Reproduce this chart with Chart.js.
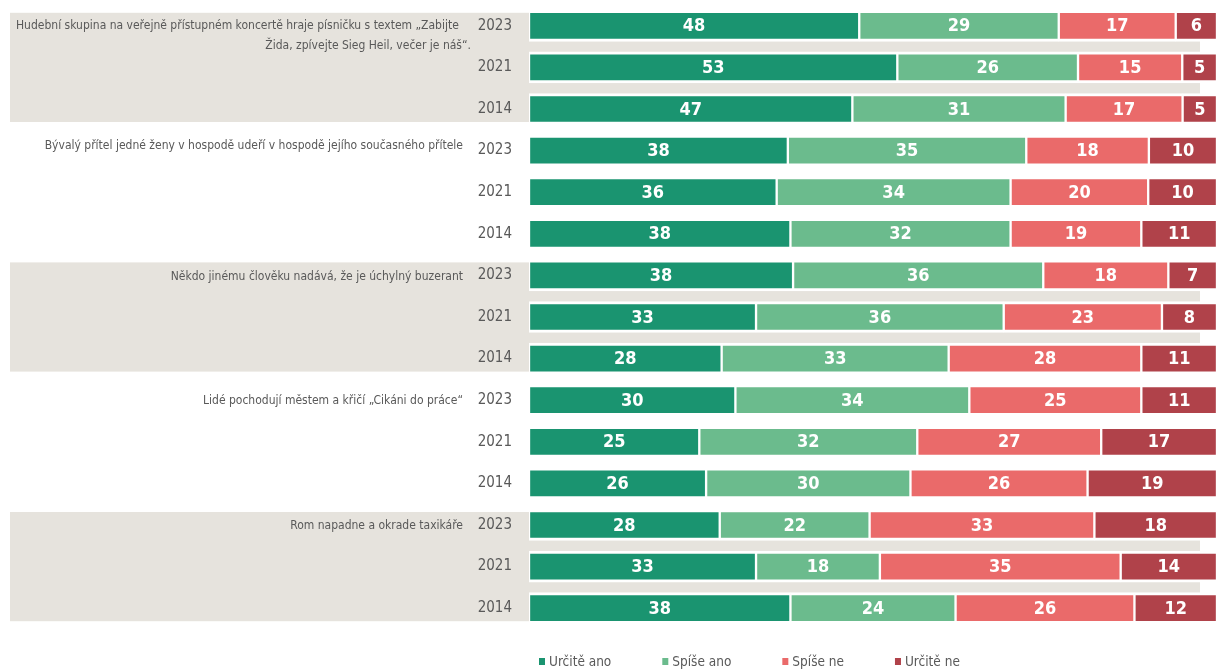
<!DOCTYPE html>
<html>
<head>
<meta charset="utf-8">
<script src="https://cdn.jsdelivr.net/npm/chart.js@4.4.1/dist/chart.umd.min.js"></script>
<style>
  html, body { margin: 0; padding: 0; background: #ffffff; }
  #wrap { width: 1217px; height: 670px; position: relative; }
</style>
</head>
<body>
<div id="wrap"><canvas id="c" width="1217" height="670"></canvas></div>
<script>
// ---- data ----
const questions = [
  ["Hudební skupina na veřejně přístupném koncertě hraje písničku s textem „Zabijte", "Žida, zpívejte Sieg Heil, večer je náš“."],
  ["Bývalý přítel jedné ženy v hospodě udeří v hospodě jejího současného přítele"],
  ["Někdo jinému člověku nadává, že je úchylný buzerant"],
  ["Lidé pochodují městem a křičí „Cikáni do práce“"],
  ["Rom napadne a okrade taxikáře"]
];
const years = ["2023", "2021", "2014"];
const seriesNames = ["Určitě ano", "Spíše ano", "Spíše ne", "Určitě ne"];
const urciteAno = [48, 53, 47, 38, 36, 38, 38, 33, 28, 30, 25, 26, 28, 33, 38];
const spiseAno  = [29, 26, 31, 35, 34, 32, 36, 36, 33, 34, 32, 30, 22, 18, 24];
const spiseNe   = [17, 15, 17, 18, 20, 19, 18, 23, 28, 25, 27, 26, 33, 35, 26];
const urciteNe  = [ 6,  5,  5, 10, 10, 11,  7,  8, 11, 11, 17, 19, 18, 14, 12];

// ---- styles ----
const colors = ["#1A9470", "#6BBB8D", "#EA6A6A", "#B0424A"];
const FONT = "'DejaVu Sans Condensed', 'Liberation Sans Narrow', sans-serif";
const textGrey = "#595959";
const bandGrey = "#E6E3DD";

// ---- derived ----
const rowLabels = [];
questions.forEach(() => years.forEach(y => rowLabels.push(y)));
const raw = [urciteAno, spiseAno, spiseNe, urciteNe];
const totals = urciteAno.map((_, i) => raw.reduce((s, a) => s + a[i], 0));
const pct = raw.map(a => a.map((v, i) => v / totals[i] * 100));

const datasets = seriesNames.map((name, k) => ({
  label: name,
  data: pct[k],
  rawValues: raw[k],
  backgroundColor: colors[k],
  borderColor: "#ffffff",
  borderWidth: { top: 3, bottom: 3, left: 1.5, right: 1.5 },
  borderSkipped: false,
  barThickness: 31
}));

const decorPlugin = {
  id: "decor",
  beforeDraw(chart) {
    const ctx = chart.ctx;
    const y = chart.scales.y;
    const area = chart.chartArea;
    ctx.save();
    ctx.fillStyle = bandGrey;
    questions.forEach((q, g) => {
      if (g % 2 !== 0) return;
      const first = g * years.length;
      const last = first + years.length - 1;
      const top = y.getPixelForValue(first) - 13;
      const bottom = y.getPixelForValue(last) + 13;
      ctx.fillRect(10, top, area.right - 17 - 10, bottom - top);
    });
    ctx.restore();
  },
  afterDatasetsDraw(chart) {
    const ctx = chart.ctx;
    ctx.save();
    ctx.font = "bold 18px " + FONT;
    ctx.fillStyle = "#ffffff";
    ctx.textAlign = "center";
    ctx.textBaseline = "middle";
    chart.data.datasets.forEach((ds, k) => {
      const meta = chart.getDatasetMeta(k);
      meta.data.forEach((el, i) => {
        const cx = (el.x + el.base) / 2;
        ctx.fillText(String(ds.rawValues[i]), cx, el.y + 1);
      });
    });
    ctx.restore();
  },
  afterDraw(chart) {
    const ctx = chart.ctx;
    const y = chart.scales.y;
    ctx.save();
    ctx.fillStyle = textGrey;
    ctx.font = "12px " + FONT;
    ctx.textBaseline = "middle";
    questions.forEach((lines, g) => {
      const cy = y.getPixelForValue(g * years.length);
      if (lines.length > 1) {
        ctx.textAlign = "left";
        ctx.fillText(lines[0], 16, cy);
        ctx.textAlign = "right";
        ctx.fillText(lines[1], 471, cy + 20);
      } else {
        ctx.textAlign = "right";
        ctx.fillText(lines[0], 463, g === 1 ? cy - 5 : cy + 1);
      }
    });
    // legend
    ctx.font = "13.5px " + FONT;
    ctx.textAlign = "left";
    let x = 539;
    const ly = 662;
    chart.data.datasets.forEach((ds) => {
      ctx.fillStyle = ds.backgroundColor;
      ctx.fillRect(x, ly - 4, 6, 7);
      ctx.fillStyle = textGrey;
      ctx.fillText(ds.label, x + 10, ly);
      x += 10 + ctx.measureText(ds.label).width + 51;
    });
    ctx.restore();
  }
};

new Chart(document.getElementById("c"), {
  type: "bar",
  data: { labels: rowLabels, datasets },
  options: {
    indexAxis: "y",
    responsive: false,
    animation: false,
    layout: { padding: { top: 5, bottom: 41, left: 0, right: 0 } },
    plugins: { legend: { display: false }, tooltip: { enabled: false } },
    scales: {
      x: { stacked: true, min: 0, max: 100, display: false },
      y: {
        stacked: true,
        grid: { display: true, drawOnChartArea: false, drawTicks: true, tickLength: 17, color: "rgba(0,0,0,0)" },
        border: { display: false },
        ticks: { color: textGrey, font: { family: FONT, size: 15, lineHeight: 0.6 }, padding: 0 },
        afterFit(scale) { scale.width = 529; }
      }
    }
  },
  plugins: [decorPlugin]
});
</script>
</body>
</html>
